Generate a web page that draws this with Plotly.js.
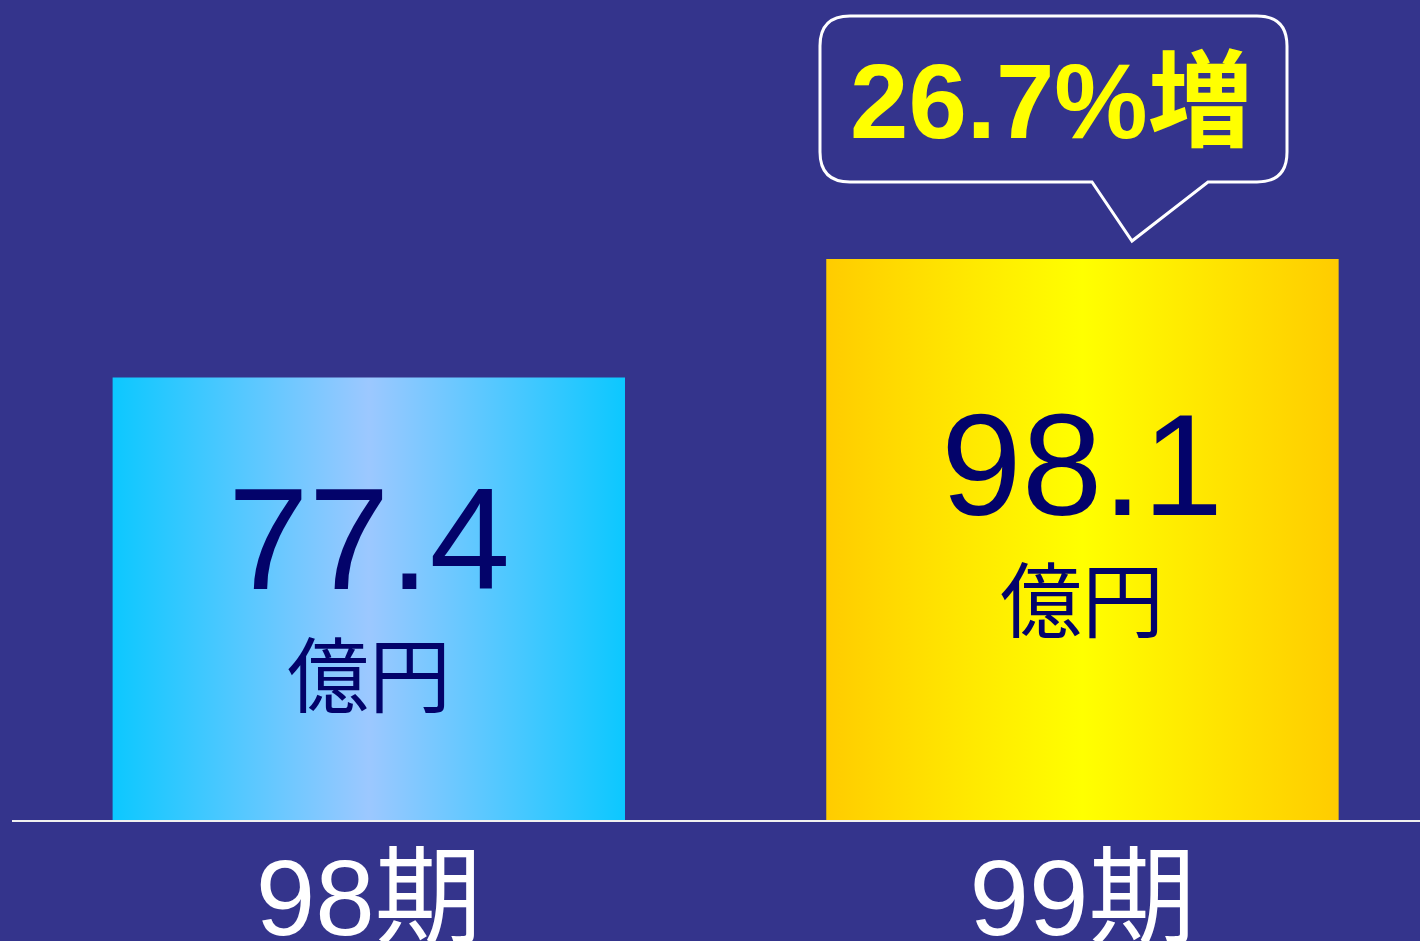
<!DOCTYPE html>
<html>
<head>
<meta charset="utf-8">
<script src="https://cdn.plot.ly/plotly-3.0.1.min.js"></script>
<style>html,body{margin:0;padding:0;background:#34348C;overflow:hidden}</style>
</head>
<body>
<div id="chart" style="width:1420px;height:941px"></div>
<script>
// ---- data ----
const categories = ['98期', '99期'];
const values = [77.4, 98.1];
const valueLabels = ['77.4', '98.1'];
const unitLabel = '億円';
const growthLabel = '26.7%増';

// ---- styles ----
const BG = '#34348C';
const NAVY = '#03036A';
const barColorscales = [
  [[0, '#0CC8FF'], [0.5, '#9CC8FF'], [1, '#0CC8FF']],
  [[0, '#FFCC00'], [0.5, '#FFFF00'], [1, '#FFCC00']]
];
const barWidth = 0.718;
const FONT = '"Liberation Sans", Arial, "Noto Sans CJK JP", sans-serif';

const W = 1420, H = 941;
const M = {l: 12, r: 0, t: 0, b: 121};
const PW = W - M.l - M.r, PH = H - M.t - M.b;
const px = x => (x - M.l) / PW;
const py = y => (PH - (y - M.t)) / PH;

const traces = values.map((v, i) => ({
  type: 'scatter',
  mode: 'lines',
  x: [i - barWidth / 2, i + barWidth / 2, i + barWidth / 2, i - barWidth / 2, i - barWidth / 2],
  y: [0, 0, v, v, 0],
  fill: 'toself',
  fillgradient: {type: 'horizontal', colorscale: barColorscales[i]},
  line: {width: 0, color: 'rgba(0,0,0,0)'},
  hoverinfo: 'skip',
  showlegend: false
}));

const annotations = [];
values.forEach((v, i) => {
  annotations.push({
    x: i, y: v * 0.63, xref: 'x', yref: 'y', yshift: 2,
    text: valueLabels[i], showarrow: false,
    font: {family: FONT, size: 145, color: NAVY},
    xanchor: 'center', yanchor: 'middle'
  });
  annotations.push({
    x: i, y: v * 0.63, xref: 'x', yref: 'y', yshift: -136,
    text: unitLabel, showarrow: false,
    font: {family: FONT, size: 82, color: NAVY},
    xanchor: 'center', yanchor: 'middle'
  });
});
annotations.push({
  x: px(1051), y: py(101), xref: 'paper', yref: 'paper',
  text: '<b>' + growthLabel + '</b>', showarrow: false,
  font: {family: FONT, size: 105, color: '#FFFF00'},
  xanchor: 'center', yanchor: 'middle'
});

// callout bubble
const L = 820, R = 1287, T = 16, B = 182, r = 30;
const pts = (x, y) => px(x).toFixed(5) + ',' + py(y).toFixed(5);
const path = 'M' + pts(L + r, T) +
  ' L' + pts(R - r, T) + ' Q' + pts(R, T) + ' ' + pts(R, T + r) +
  ' L' + pts(R, B - r) + ' Q' + pts(R, B) + ' ' + pts(R - r, B) +
  ' L' + pts(1208, B) + ' L' + pts(1132, 241) + ' L' + pts(1092, B) +
  ' L' + pts(L + r, B) + ' Q' + pts(L, B) + ' ' + pts(L, B - r) +
  ' L' + pts(L, T + r) + ' Q' + pts(L, T) + ' ' + pts(L + r, T) + ' Z';

const layout = {
  width: W, height: H,
  margin: M,
  paper_bgcolor: BG, plot_bgcolor: BG,
  showlegend: false,
  xaxis: {
    range: [-0.5, 1.473],
    tickvals: [0, 1], ticktext: categories,
    showline: true, linecolor: '#F0F0F0', linewidth: 1.5,
    showgrid: false, zeroline: false, ticks: '',
    ticklabelstandoff: -15,
    tickfont: {family: FONT, size: 107, color: '#FFFFFF'},
    fixedrange: true
  },
  yaxis: {
    range: [0, 143.4], visible: false, showgrid: false, zeroline: false, fixedrange: true
  },
  shapes: [{
    type: 'path', xref: 'paper', yref: 'paper', path: path,
    line: {color: '#FFFFFF', width: 3}, fillcolor: 'rgba(0,0,0,0)'
  }],
  annotations: annotations
};

Plotly.newPlot('chart', traces, layout, {staticPlot: true, displayModeBar: false});
</script>
</body>
</html>
